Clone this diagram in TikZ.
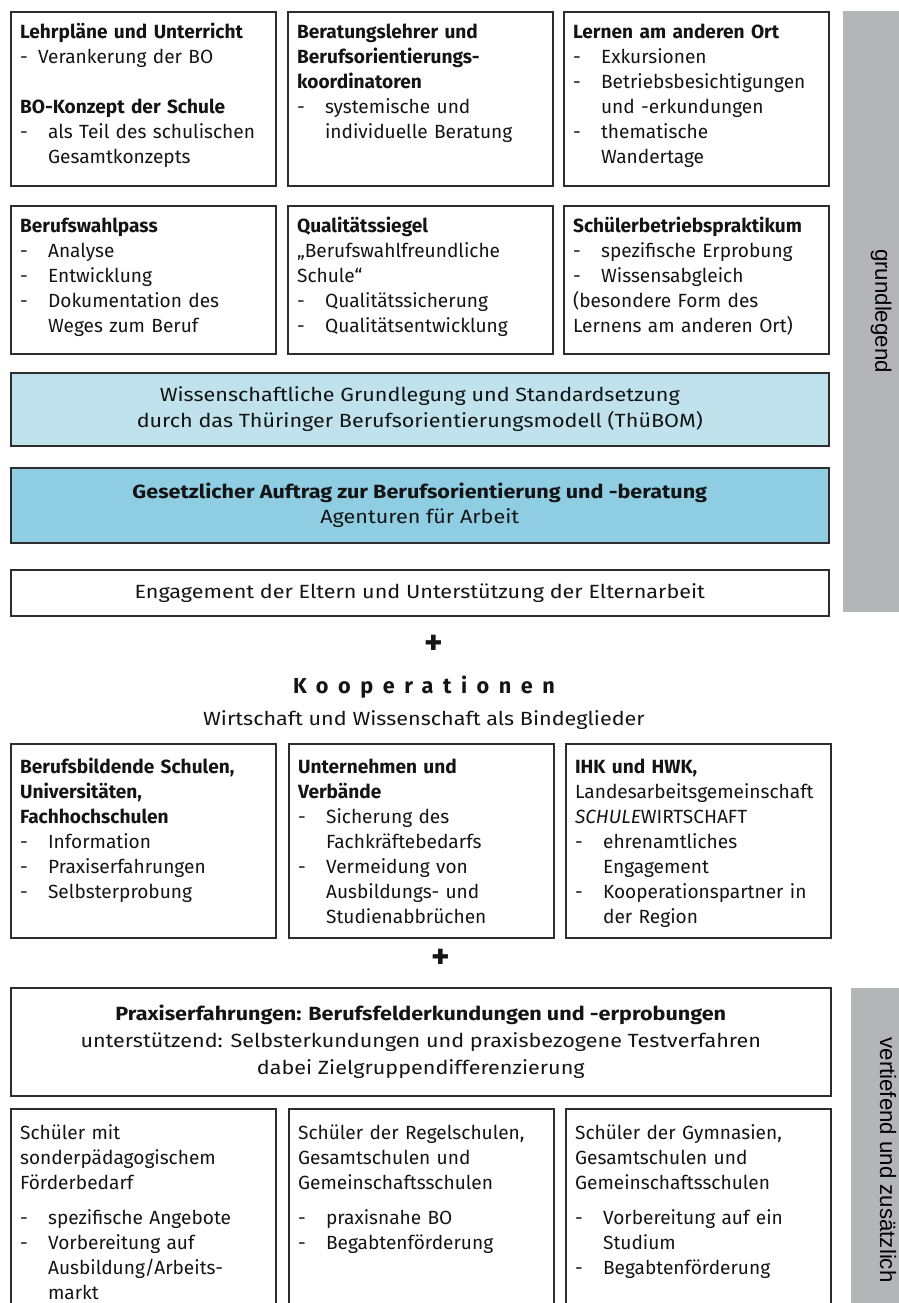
\documentclass[tikz,border=0pt]{standalone}
\usepackage{fontspec}
\setmainfont{Fira Sans}
\newfontfamily\bandschrift[FakeStretch=1.13]{Fira Sans}
\newfontfamily\seitenschrift{Liberation Sans}
\definecolor{rahmen}{RGB}{45,45,45}
\definecolor{hellblau}{RGB}{191,226,236}
\definecolor{mittelblau}{RGB}{142,205,226}
\definecolor{balkengrau}{RGB}{180,181,182}
\definecolor{schrift}{RGB}{20,20,20}
\newcommand{\grundschrift}{\fontsize{16.3}{21.3}\selectfont}
\newcommand{\strich}[1]{\makebox[0.84cm][l]{-}#1}
\newcommand{\kurzstrich}[1]{\makebox[0.54cm][l]{-}#1}
\newcommand{\weiter}[1]{\hspace*{0.84cm}#1}

\begin{document}
\begin{tikzpicture}[x=0.03cm, y=-0.03cm,
    feld/.style={draw=rahmen, line width=1.3pt, anchor=north west, align=left, text width=7.39cm, inner xsep=0.28cm, inner ysep=0.3cm, text height=0.5cm, font=\grundschrift, text=schrift},
    band/.style={draw=rahmen, line width=1.3pt, anchor=north west, align=center, minimum width=24.54cm, inner sep=0pt, font=\bandschrift\fontsize{16.3}{22}\selectfont, text=schrift},
    plus/.style={font=\bfseries\fontsize{30}{32}\selectfont, text=schrift},
    seite/.style={font=\seitenschrift\fontsize{19}{22}\selectfont, rotate=-90, text=black}
]
    \useasboundingbox (0,0) rectangle (899,1303);

    % grundlegend
    \node[feld, text depth=4.12cm] (lehrplan) at (10,11) {\textbf{Lehrpläne und Unterricht}\\\kurzstrich{Verankerung der BO}\\[21.3pt]\textbf{BO-Konzept der Schule}\\\strich{als Teil des schulischen}\\\weiter{Gesamtkonzepts}};
    \node[feld, text depth=4.12cm] (beratung) at (287,11) {\textbf{Beratungslehrer und}\\\textbf{Berufsorientierungs-}\\\textbf{koordinatoren}\\\strich{systemische und}\\\weiter{individuelle Beratung}};
    \node[feld, text depth=4.12cm] (lernort) at (563,11) {\textbf{Lernen am anderen Ort}\\\strich{Exkursionen}\\\strich{Betriebsbesichtigungen}\\\weiter{und -erkundungen}\\\strich{thematische}\\\weiter{Wandertage}};

    \node[feld, text depth=3.34cm] (wahlpass) at (10,205) {\textbf{Berufswahlpass}\\\strich{Analyse}\\\strich{Entwicklung}\\\strich{Dokumentation des}\\\weiter{Weges zum Beruf}};
    \node[feld, text depth=3.34cm] (siegel) at (287,205) {\textbf{Qualitätssiegel}\\„Berufswahlfreundliche\\Schule“\\\strich{Qualitätssicherung}\\\strich{Qualitätsentwicklung}};
    \node[feld, text depth=3.34cm] (praktikum) at (563,205) {\textbf{Schülerbetriebspraktikum}\\\strich{spezifische Erprobung}\\\strich{Wissensabgleich}\\(besondere Form des\\Lernens am anderen Ort)};

    \node[band, fill=hellblau, minimum height=2.19cm] (thuebom) at (10,372) {Wissenschaftliche Grundlegung und Standardsetzung\\durch das Thüringer Berufsorientierungsmodell (ThüBOM)};
    \node[band, fill=mittelblau, minimum height=2.25cm] (auftrag) at (10,467) {\textbf{Gesetzlicher Auftrag zur Berufsorientierung und -beratung}\\Agenturen für Arbeit};
    \node[band, minimum height=1.38cm] (eltern) at (10,569) {Engagement der Eltern und Unterstützung der Elternarbeit};

    \fill[balkengrau] (843,11) rectangle (899,612);
    \node[seite] (grundlegend) at (881,311) {grundlegend};

    % Kooperationen
    \node[plus] (plusA) at (434,645) {+};
    \node[font=\bfseries\fontsize{18.5}{20}\selectfont\addfontfeature{LetterSpace=44}, text=schrift] (koop) at (424,687) {Kooperationen};
    \node[font=\bandschrift\fontsize{16.3}{20}\selectfont, text=schrift] (binde) at (424,720) {Wirtschaft und Wissenschaft als Bindeglieder};

    \node[feld, text height=0.6cm, text depth=4.62cm] (hochschulen) at (10,743) {\textbf{Berufsbildende Schulen,}\\\textbf{Universitäten,}\\\textbf{Fachhochschulen}\\\strich{Information}\\\strich{Praxiserfahrungen}\\\strich{Selbsterprobung}};
    \node[feld, text height=0.6cm, text depth=4.62cm] (unternehmen) at (288,743) {\textbf{Unternehmen und}\\\textbf{Verbände}\\\strich{Sicherung des}\\\weiter{Fachkräftebedarfs}\\\strich{Vermeidung von}\\\weiter{Ausbildungs- und}\\\weiter{Studienabbrüchen}};
    \node[feld, text height=0.6cm, text depth=4.62cm] (kammern) at (565,743) {\textbf{IHK und HWK,}\\Landesarbeitsgemeinschaft\\\textit{SCHULE}WIRTSCHAFT\\\strich{ehrenamtliches}\\\weiter{Engagement}\\\strich{Kooperationspartner in}\\\weiter{der Region}};

    \node[plus] (plusB) at (441,959) {+};

    % vertiefend und zusaetzlich
    \node[band, minimum width=24.6cm, minimum height=3.24cm, font=\bandschrift\fontsize{16.3}{23}\selectfont] (praxis) at (10,987) {\textbf{Praxiserfahrungen: Berufsfelderkundungen und -erprobungen}\\unterstützend: Selbsterkundungen und praxisbezogene Testverfahren\\dabei Zielgruppendifferenzierung};

    \node[feld, text height=0.63cm, text depth=5.43cm] (foerder) at (10,1108) {Schüler mit\\sonderpädagogischem\\Förderbedarf\\[8.5pt]\strich{spezifische Angebote}\\\strich{Vorbereitung auf}\\\weiter{Ausbildung/Arbeits-}\\\weiter{markt}};
    \node[feld, text height=0.63cm, text depth=5.43cm] (regel) at (288,1108) {Schüler der Regelschulen,\\Gesamtschulen und\\Gemeinschaftsschulen\\[8.5pt]\strich{praxisnahe BO}\\\strich{Begabtenförderung}};
    \node[feld, text height=0.63cm, text depth=5.43cm] (gymnasium) at (565,1108) {Schüler der Gymnasien,\\Gesamtschulen und\\Gemeinschaftsschulen\\[8.5pt]\strich{Vorbereitung auf ein}\\\weiter{Studium}\\\strich{Begabtenförderung}};

    \fill[balkengrau] (851,988) rectangle (899,1340);
    \node[seite] (vertiefend) at (888,1160) {vertiefend und zusätzlich};
\end{tikzpicture}
\end{document}
